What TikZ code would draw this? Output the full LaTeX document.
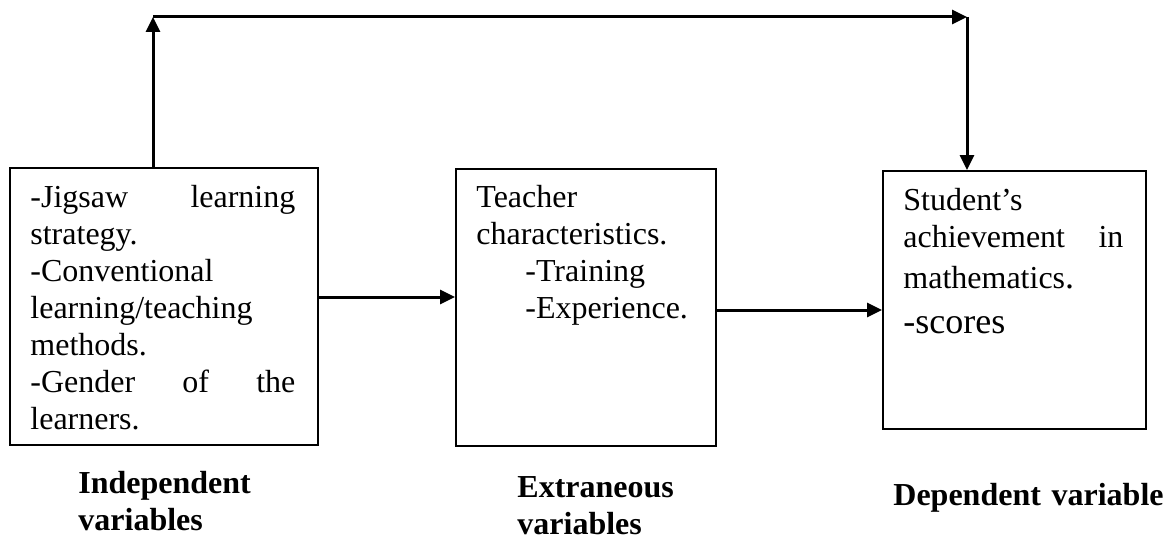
\documentclass[tikz,border=0pt]{standalone}
\usepackage{fontspec}
\setmainfont{Liberation Serif}
\usetikzlibrary{arrows.meta}

\tikzset{
	varbox/.style={draw, line width=1pt, inner sep=0pt, anchor=north west},
	boxtext/.style={inner sep=0pt, anchor=base west, align=left, font=\fontsize{16}{18.5}\selectfont},
	heading/.style={inner sep=0pt, anchor=base west, align=left, text width=100pt, font=\fontsize{16}{18.5}\selectfont\bfseries},
	link/.style={line width=1.5pt, -{Triangle[length=7.5pt,width=7pt]}}
}

\begin{document}
\begin{tikzpicture}[x=0.5pt, y=-0.5pt]
	\useasboundingbox (0,0) rectangle (1171,540);
	\def\indent{24.5pt}

	% the three boxes
	\node[varbox, minimum width=154pt, minimum height=138.5pt] (indep) at (9,167) {};
	\node[varbox, minimum width=130pt, minimum height=138.5pt] (extra) at (455,168) {};
	\node[varbox, minimum width=131.5pt, minimum height=129pt] (dep) at (882,170) {};

	% box contents
	\node[boxtext, text width=132.5pt] (indeptext) at (30,207)
		{-Jigsaw\hfill learning\\strategy.\\-Conventional\\learning/teaching\\methods.\\-Gender\hfill of\hfill the\\learners.};
	\node[boxtext, text width=112pt] (extratext) at (476,207)
		{Teacher\\characteristics.\\\hspace*{\indent}-Training\\\hspace*{\indent}-Experience.};
	\node[boxtext, text width=110pt] (deptext) at (903,210)
		{Student’s\\achievement\hfill in\\[2pt]mathematics{\fontsize{18}{20}\selectfont.}\\[4pt]{\fontsize{18}{20}\selectfont -scores}};

	% captions below
	\node[heading] (indeplabel) at (78,493) {Independent\\variables};
	\node[heading] (extralabel) at (517,497) {Extraneous\\variables};
	\node[heading, text width=140pt] (deplabel) at (893,505) {Dependent variable};

	% feedback path over the top
	\coordinate (feedleft) at (153,17);
	\coordinate (feedright) at (967,17);
	\draw[link] (feedleft |- indep.north) -- (feedleft);
	\draw[link] (feedleft) -- (feedright);
	\draw[link] (feedright) -- (feedright |- dep.north);

	% arrows between the boxes
	\coordinate (row1) at (0,297);
	\coordinate (row2) at (0,310);
	\draw[link] (indep.east |- row1) -- (extra.west |- row1);
	\draw[link] (extra.east |- row2) -- (dep.west |- row2);
\end{tikzpicture}
\end{document}
